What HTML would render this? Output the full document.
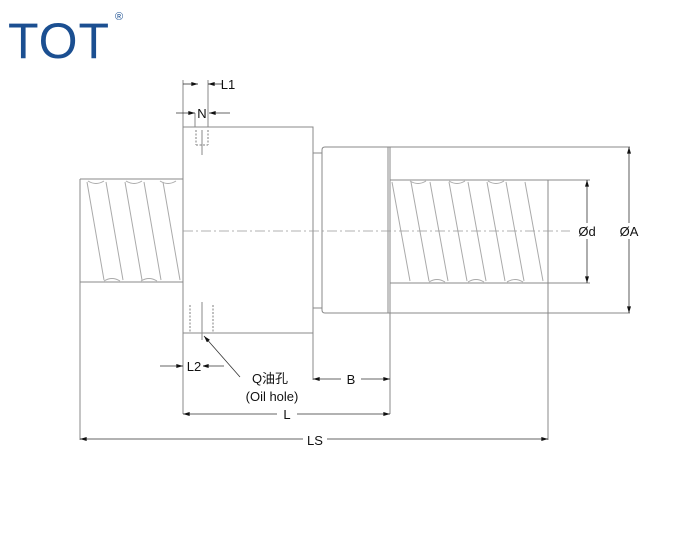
<!DOCTYPE html>
<html><head><meta charset="utf-8"><style>
html,body{margin:0;padding:0;background:#fff;}
svg{display:block;}
text{font-family:"Liberation Sans","Noto Sans CJK SC",sans-serif;fill:#111;}
</style></head><body>
<svg width="698" height="533" viewBox="0 0 698 533" xmlns="http://www.w3.org/2000/svg">
<defs>
<marker id="a" viewBox="0 0 10 6" refX="10" refY="3" markerWidth="10" markerHeight="4" orient="auto-start-reverse" markerUnits="userSpaceOnUse"><path d="M0,0 L10,3 L0,6z" fill="#111"/></marker>
</defs>
<text x="8" y="58" font-size="50" style="fill:#1b4f91" letter-spacing="1">TOT</text>
<text x="115" y="20" font-size="11" style="fill:#1b4f91">®</text>
<g stroke="#888" stroke-width="1" fill="none">
<!-- left screw -->
<path d="M80,179 H183 M80,282 H183 M80,179 V440"/>
<g stroke="#aaa">
<path d="M87,182 L104,280 M106,182 L123,280 M125,182 L142,280 M144,182 L161,280 M163,182 L180,280"/>
<path d="M88,181 q8,5 16,0 M126,181 q8,5 16,0 M160,181 q8,5 16,0 M104,281 q8,-5 16,0 M141,281 q8,-5 16,0"/>
</g>
<!-- flange -->
<path d="M183,127 H313 V333 H183 Z M183,127 V414"/>
<path d="M313,153 H322 M313,308 H322 M313,333 V380"/>
<!-- nut body -->
<path d="M325,147 H388 V313 H325 Q322,313 322,310 V150 Q322,147 325,147 Z" />
<path d="M390,147 V414 M388,147 H630 M388,313 H630"/>
<!-- right screw -->
<path d="M390,180 H590 M390,283 H590 M548,180 V440"/>
<g stroke="#aaa">
<path d="M392,182 L410,281 M411,182 L429,281 M430,182 L448,281 M449,182 L467,281 M468,182 L486,281 M487,182 L505,281 M506,182 L524,281 M525,182 L543,281"/>
<path d="M410,181 q8,5 16,0 M449,181 q8,5 16,0 M488,181 q8,5 16,0 M429,282 q8,-5 16,0 M468,282 q8,-5 16,0 M507,282 q8,-5 16,0"/>
</g>
<!-- dashed holes -->
<g stroke="#aaa" stroke-dasharray="2,1.5" stroke-width="1.5"><path d="M196,130 V145 M208,130 V145 M190,305 V333 M213,305 V333 M196,145 H208"/></g>
<path d="M202,130 V155 M202,302 V340"/>
<!-- extension lines -->
<path d="M183,80 V127 M208,80 V127 M195,113 V127"/>
</g>
<!-- centerline -->
<path d="M183,231 H570" stroke="#999" stroke-width="0.8" stroke-dasharray="10,3,2,3" fill="none"/>
<g stroke="#333" stroke-width="0.8" fill="none">
<path d="M183,84 H198" marker-end="url(#a)"/>
<path d="M208,84 H222" marker-start="url(#a)"/>
<path d="M176,113 H195" marker-end="url(#a)"/>
<path d="M209,113 H230" marker-start="url(#a)"/>
<path d="M160,366 H183" marker-end="url(#a)"/>
<path d="M202,366 H224" marker-start="url(#a)"/>
<path d="M313,379 H390" marker-start="url(#a)" marker-end="url(#a)"/>
<path d="M183,414 H390" marker-start="url(#a)" marker-end="url(#a)"/>
<path d="M80,439 H548" marker-start="url(#a)" marker-end="url(#a)"/>
<path d="M587,180 V283" marker-start="url(#a)" marker-end="url(#a)"/>
<path d="M629,147 V313" marker-start="url(#a)" marker-end="url(#a)"/>
<path d="M240,377 L204,336" marker-end="url(#a)"/>
</g>
<g font-size="13" text-anchor="middle">
<rect x="277" y="406" width="20" height="16" fill="#fff"/>
<rect x="341" y="371" width="20" height="16" fill="#fff"/>
<rect x="303" y="431" width="24" height="16" fill="#fff"/>
<rect x="185" y="358" width="18" height="16" fill="#fff"/>
<rect x="575" y="223" width="24" height="16" fill="#fff"/>
<rect x="617" y="223" width="24" height="16" fill="#fff"/>
<text x="228" y="89">L1</text>
<text x="202" y="118">N</text>
<text x="194" y="371">L2</text>
<text x="270" y="383">Q油孔</text>
<text x="272" y="401">(Oil hole)</text>
<text x="351" y="384">B</text>
<text x="287" y="419">L</text>
<text x="315" y="445">LS</text>
<text x="587" y="236">Ød</text>
<text x="629" y="236">ØA</text>
</g>
</svg>
</body></html>
